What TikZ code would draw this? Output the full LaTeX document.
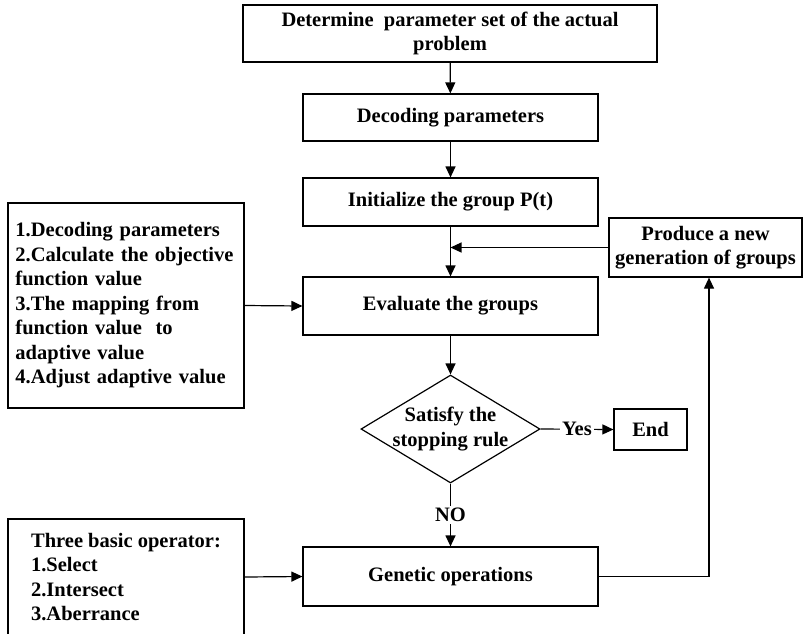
\documentclass[tikz,border=0pt]{standalone}
\usepackage{fontspec}
\setmainfont{Liberation Serif}
\usetikzlibrary{shapes.geometric,arrows.meta}

\begin{document}
\begin{tikzpicture}[x=1pt,y=-1pt,
  >={Triangle[length=11pt,width=10pt]},
  every node/.style={font=\bfseries\fontsize{20.5}{24.5}\selectfont},
  box/.style={draw,line width=1.2pt,inner sep=0pt,align=center},
  decide/.style={draw,line width=1.2pt,diamond,inner sep=0pt,minimum width=179pt,minimum height=108pt},
  link/.style={line width=1.2pt,->}]
\useasboundingbox (0,0) rectangle (803,633);
% main column
\node[box,minimum width=414pt,minimum height=57pt] (prob) at (450,33.5) {Determine~ parameter set of the actual\\problem};
\node[box,minimum width=295pt,minimum height=47pt] (decode) at (450.5,117.5) {Decoding parameters};
\node[box,minimum width=295pt,minimum height=48pt] (init) at (450.5,202) {Initialize the group P(t)};
\node[box,minimum width=295pt,minimum height=58pt] (eval) at (450.5,306) {Evaluate the groups};
\node[decide,label={[align=center]center:Satisfy the\\stopping rule}] (judge) at (450.5,429) {};
\node[box,minimum width=73pt,minimum height=41pt] (endbox) at (650.5,429.5) {End};
\node[box,minimum width=295pt,minimum height=59pt] (gen) at (450.5,576.5) {Genetic operations};
% side boxes
\node[box,minimum width=193pt,minimum height=59pt] (prod) at (705.5,247.5) {Produce a new\\generation of groups};
\node[box,text width=221pt,align=left,inner xsep=7.5pt,minimum height=205pt] (steps) at (126,305.5)
  {1.Decoding parameters\\2.Calculate the objective\\function value\\3.The mapping from\\function value~ to\\adaptive value\\4.Adjust adaptive value};
\node[box,align=left,minimum width=236pt,minimum height=116pt] (ops) at (126,577)
  {Three basic operator:\\1.Select\\2.Intersect\\3.Aberrance};
% connectors
\draw[link] (prob) -- (decode);
\draw[link] (decode) -- (init);
\draw[link] (init) -- (eval);
\draw[link] (prod.west) -- (prod.west -| init.south);
\draw[link] (steps.east) -- (eval.west);
\draw[link] (eval) -- (judge);
\draw[link] (judge.east) -- node[fill=white,inner sep=2pt] {Yes} (endbox.west);
\draw[link] (judge.south) -- node[fill=white,inner sep=2pt] {NO} (gen.north);
\draw[link] (ops.east) -- (gen.west);
\draw[link] (gen.east) -| ([xshift=3.5pt]prod.south);
\end{tikzpicture}
\end{document}
